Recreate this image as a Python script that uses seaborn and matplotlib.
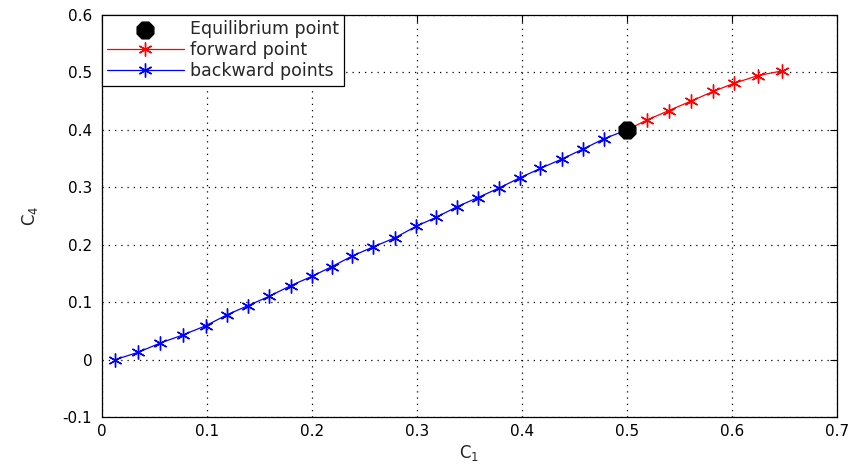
import matplotlib
matplotlib.use("Agg")
import matplotlib.pyplot as plt
import seaborn as sns
import pandas as pd

# Continuation of the equilibrium branch in the (C1, C4) plane
backward_c1 = [0.0127, 0.0343, 0.0556, 0.0771, 0.0988, 0.119, 0.139, 0.159, 0.180,
               0.200, 0.219, 0.238, 0.258, 0.279, 0.299, 0.318, 0.338, 0.358,
               0.378, 0.398, 0.4175, 0.4385, 0.458, 0.478, 0.500]
backward_c4 = [0.000, 0.0127, 0.029, 0.043, 0.059, 0.078, 0.094, 0.110, 0.129,
               0.145, 0.162, 0.180, 0.196, 0.212, 0.232, 0.2475, 0.266, 0.282,
               0.2986, 0.3165, 0.3328, 0.3496, 0.3664, 0.3843, 0.400]
forward_c1 = [0.500, 0.519, 0.540, 0.561, 0.582, 0.602, 0.625, 0.648]
forward_c4 = [0.400, 0.417, 0.4336, 0.450, 0.4667, 0.481, 0.4945, 0.5026]
equilibrium_c1 = [0.5]
equilibrium_c4 = [0.4]

x_ticks = [0, 0.1, 0.2, 0.3, 0.4, 0.5, 0.6, 0.7]
y_ticks = [-0.1, 0, 0.1, 0.2, 0.3, 0.4, 0.5, 0.6]

sns.set_style("white")
plt.rcParams["font.family"] = ["DejaVu Sans"]
plt.rcParams["mathtext.fontset"] = "dejavusans"

fig = plt.figure(figsize=(8.54, 4.66), dpi=100)
ax = fig.add_axes([0.1195, 0.105, 0.8605, 0.863])

eq_df = pd.DataFrame({"c1": equilibrium_c1, "c4": equilibrium_c4})
fw_df = pd.DataFrame({"c1": forward_c1, "c4": forward_c4})
bw_df = pd.DataFrame({"c1": backward_c1, "c4": backward_c4})

asterisk = (6, 2, 0)

sns.scatterplot(data=eq_df, x="c1", y="c4", ax=ax, marker="8", s=170,
                color="black", edgecolor="black", linewidth=1,
                label="Equilibrium point", zorder=4)
sns.lineplot(data=fw_df, x="c1", y="c4", ax=ax, color="red", linewidth=0.9,
             marker=asterisk, markersize=10, markeredgecolor="red",
             markeredgewidth=1.0, label="forward point", sort=False,
             estimator=None, zorder=3)
sns.lineplot(data=bw_df, x="c1", y="c4", ax=ax, color="blue", linewidth=0.9,
             marker=asterisk, markersize=10, markeredgecolor="blue",
             markeredgewidth=1.0, label="backward points", sort=False,
             estimator=None, zorder=3)

ax.set_xlim(0, 0.7)
ax.set_ylim(-0.1, 0.6)
ax.set_xticks(x_ticks)
ax.set_yticks(y_ticks)
ax.set_xticklabels([f"{v:g}" for v in x_ticks])
ax.set_yticklabels([f"{v:g}" for v in y_ticks])
ax.tick_params(direction="in", length=5, width=0.8, labelsize=11, pad=7,
               top=True, right=True, colors="black")
ax.tick_params(axis="x", pad=5)
ax.grid(True, linestyle=(0, (1, 4)), color="black", linewidth=0.9)
for sp in ax.spines.values():
    sp.set_color("black")
    sp.set_linewidth(0.9)

ax.set_xlabel(r"$\mathregular{C_1}$", fontsize=12, labelpad=3)
ax.set_ylabel(r"$\mathregular{C_4}$", fontsize=12, labelpad=16)

leg = ax.legend(loc="upper left", fontsize=12.5, frameon=True, fancybox=False,
                borderaxespad=0, handlelength=4.4, handletextpad=0.35,
                borderpad=0.3, labelspacing=0.18, edgecolor="black",
                framealpha=1)
leg.get_frame().set_linewidth(0.9)

fig.savefig("out.png", dpi=100)
